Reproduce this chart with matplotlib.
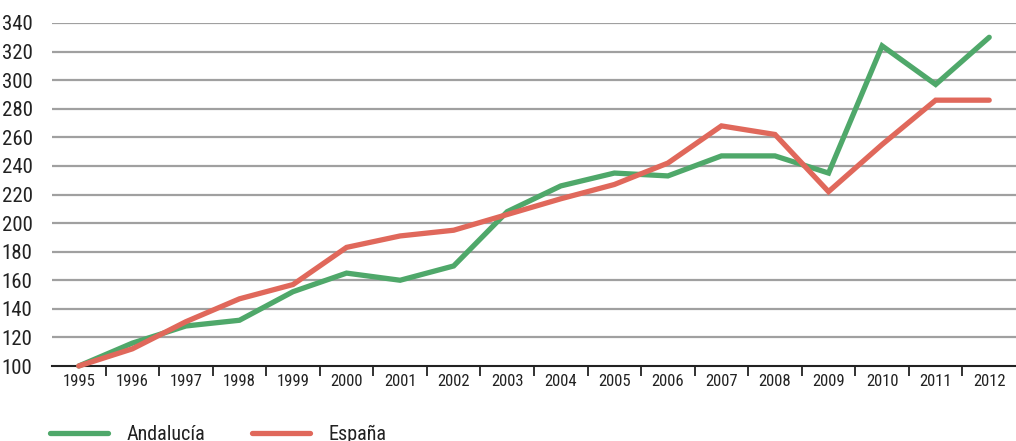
import matplotlib
matplotlib.use("Agg")
import matplotlib.pyplot as plt
from matplotlib import font_manager as fm
from matplotlib.ticker import FixedLocator

years = ["1995", "1996", "1997", "1998", "1999", "2000", "2001", "2002", "2003",
         "2004", "2005", "2006", "2007", "2008", "2009", "2010", "2011", "2012"]
andalucia = [100, 116, 128, 132, 152, 165, 160, 170, 208, 226, 235, 233, 247, 247, 235, 324, 297, 330]
espana = [100, 112, 131, 147, 157, 183, 191, 195, 206, 217, 227, 242, 268, 262, 222, 255, 286, 286]
yticks = list(range(100, 341, 20))

available = {f.name for f in fm.fontManager.ttflist}
family = 'DejaVu Sans'
for cand in ['Roboto Condensed', 'Archivo Narrow', 'PT Sans Narrow', 'Liberation Sans Narrow',
             'Open Sans Condensed', 'Encode Sans Condensed', 'Fira Sans Condensed',
             'IBM Plex Sans Condensed', 'Barlow Semi Condensed']:
    if cand in available:
        family = cand
        break
plt.rcParams['font.family'] = [family, 'DejaVu Sans']

fig = plt.figure(figsize=(10.16, 4.41), dpi=100)
ax = fig.add_axes([52/1016, 1 - 366/441, 1 - 52/1016, (366 - 23)/441])

x = list(range(len(years)))
ax.plot(x, andalucia, color='#4fa86a', lw=3.8, solid_capstyle='round',
        solid_joinstyle='miter', label='Andalucía', clip_on=False, zorder=3)
ax.plot(x, espana, color='#e0685b', lw=3.8, solid_capstyle='round',
        solid_joinstyle='miter', label='España', clip_on=False, zorder=3)

ax.set_xlim(-0.5, len(years) - 0.5)
ax.set_ylim(100, 340)
ax.set_yticks(yticks)
ax.set_yticklabels([str(v) for v in yticks], fontsize=15, color='#222222')
ax.set_xticks(x)
ax.set_xticklabels(years, fontsize=12, color='#222222')
ax.xaxis.set_minor_locator(FixedLocator([i + 0.5 for i in range(len(years) - 1)]))
ax.tick_params(axis='x', which='major', length=0, pad=6)
ax.tick_params(axis='x', which='minor', length=7, width=1.3, color='#222222', direction='out')
ax.tick_params(axis='y', length=0, pad=14)

for v in yticks[1:]:
    ax.axhline(v, color='#a0a0a0', lw=1.6, zorder=1)

for s in ['top', 'right', 'left']:
    ax.spines[s].set_visible(False)
ax.spines['bottom'].set_color('#222222')
ax.spines['bottom'].set_linewidth(1.5)

fs = 14.5
fig.legend(loc='center left', bbox_to_anchor=(42/1016, 1 - 434/441), ncol=2,
           frameon=False, fontsize=fs, handlelength=2.9, columnspacing=2.3,
           handletextpad=0.9, borderaxespad=0, labelcolor='#222222')

fig.savefig('out.png', dpi=100)
